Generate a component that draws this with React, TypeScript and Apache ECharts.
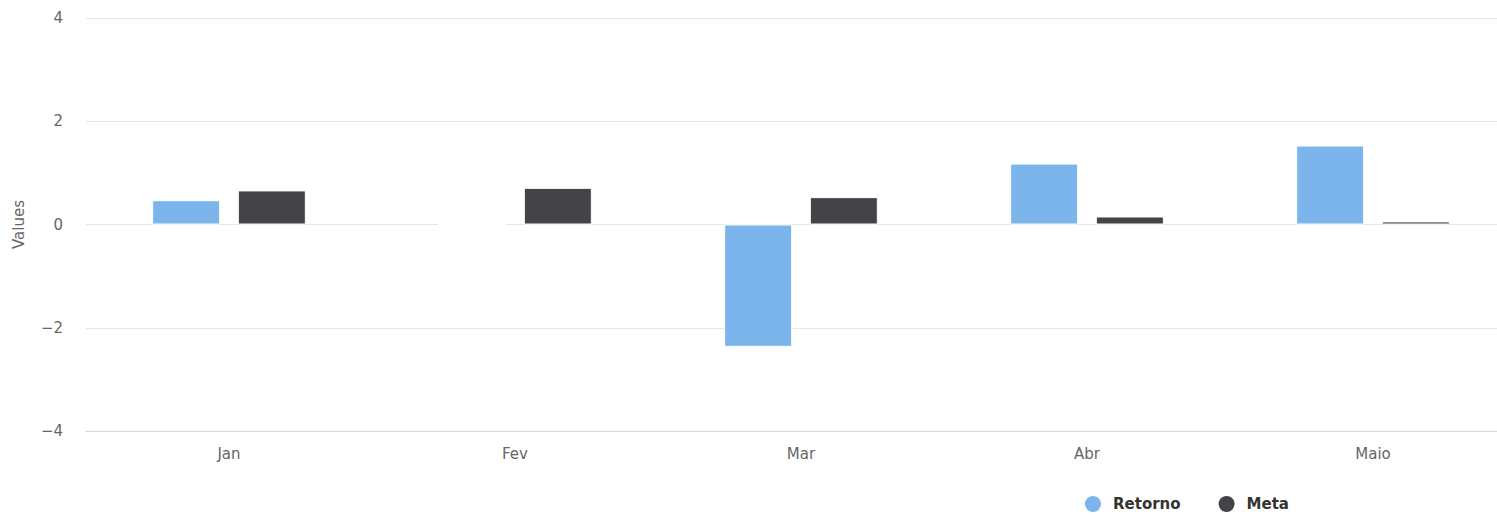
import React, { useEffect, useRef } from "react";
import * as echarts from "echarts";

const categories = ["Jan", "Fev", "Mar", "Abr", "Maio"];
const retorno = [0.47, 0, -2.37, 1.18, 1.53];
const meta = [0.66, 0.71, 0.53, 0.155, 0.06];
const yTicks = { min: -4, max: 4, interval: 2 };

const FONT = "'DejaVu Sans', sans-serif";

export default function App() {
  const ref = useRef<HTMLDivElement>(null);
  useEffect(() => {
    if (!ref.current) return;
    const chart = echarts.init(ref.current, undefined, { renderer: "svg" });
    chart.setOption({
      animation: false,
      backgroundColor: "#ffffff",
      textStyle: { fontFamily: FONT },
      grid: { left: 86, top: 18, width: 1430, height: 413, containLabel: false },
      legend: {
        left: 1083,
        top: 494,
        padding: 0,
        icon: "circle",
        itemWidth: 18,
        itemHeight: 18,
        itemGap: 36,
        textStyle: {
          fontFamily: FONT,
          fontSize: 15,
          fontWeight: "bold",
          color: "#333333",
          padding: [0, 0, 0, 6],
        },
        data: ["Retorno", "Meta"],
      },
      xAxis: {
        type: "category",
        data: categories,
        axisLine: { show: true, onZero: false, lineStyle: { color: "#ccd6eb", width: 1 } },
        axisTick: { show: false },
        axisLabel: { color: "#666666", fontSize: 15, margin: 15, fontFamily: FONT },
      },
      yAxis: {
        type: "value",
        min: yTicks.min,
        max: yTicks.max,
        interval: yTicks.interval,
        name: "Values",
        nameLocation: "middle",
        nameRotate: 90,
        nameGap: 60,
        nameTextStyle: { color: "#666666", fontSize: 15, fontFamily: FONT },
        axisLine: { show: false },
        axisTick: { show: false },
        axisLabel: {
          color: "#666666",
          fontSize: 15,
          margin: 23,
          fontFamily: FONT,
          formatter: (v: number) => (v < 0 ? "\u2212" + Math.abs(v) : String(v)),
        },
        splitLine: { lineStyle: { color: "#e6e6e6", width: 1 } },
      },
      series: [
        {
          name: "Retorno",
          type: "bar",
          data: retorno,
          barWidth: 68,
          barGap: "26%",
          itemStyle: { color: "#7cb5ec", borderColor: "#ffffff", borderWidth: 1 },
        },
        {
          name: "Meta",
          type: "bar",
          data: meta,
          barWidth: 68,
          barGap: "26%",
          itemStyle: { color: "#434348", borderColor: "#ffffff", borderWidth: 1 },
        },
      ],
    });
    return () => chart.dispose();
  }, []);
  return (
    <div style={{ position: "absolute", left: 0, top: 0, width: 1497, height: 515, overflow: "hidden" }}>
      <div ref={ref} style={{ position: "absolute", left: 0, top: 0, width: 1540, height: 515 }} />
    </div>
  );
}
